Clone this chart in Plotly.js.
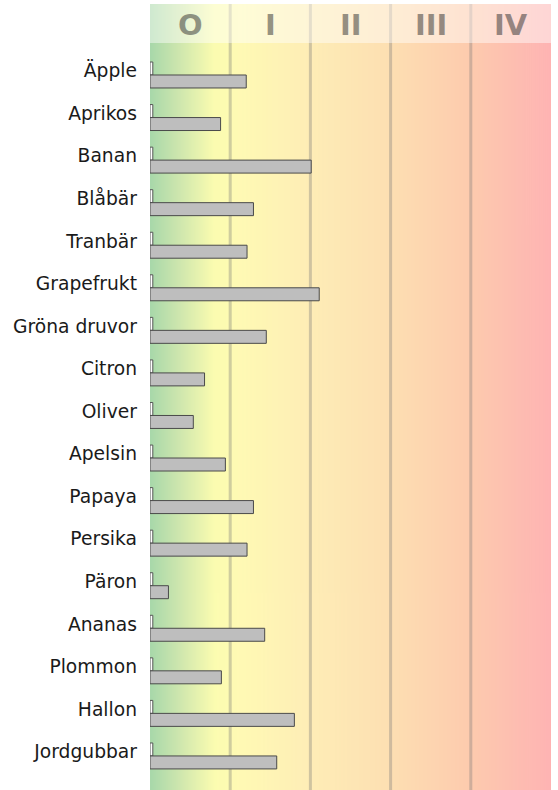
<!DOCTYPE html>
<html><head><meta charset="utf-8">
<script src="https://cdn.plot.ly/plotly-3.0.1.min.js"></script>
<style>html,body{margin:0;padding:0;background:#fff}#chart{width:558px;height:790px}</style>
</head><body><div id="chart"></div>
<script>
const categories = ['Äpple','Aprikos','Banan','Blåbär','Tranbär','Grapefrukt','Gröna druvor','Citron','Oliver','Apelsin','Papaya','Persika','Päron','Ananas','Plommon','Hallon','Jordgubbar'];
const markerValues = [0.035,0.035,0.035,0.035,0.035,0.035,0.035,0.035,0.035,0.035,0.035,0.035,0.035,0.035,0.035,0.035,0.035];
const values = [1.20,0.88,2.01,1.29,1.21,2.11,1.45,0.68,0.54,0.94,1.29,1.21,0.23,1.43,0.89,1.80,1.58];
const zoneLabels = ['O','I','II','III','IV'];

const yIdx = categories.map((_, i) => i);
const yTop = -1.668, yBottom = 16.8, headerBottom = -0.752;

// background gradient image
const cv = document.createElement('canvas');
cv.width = 400; cv.height = 2;
const ctx = cv.getContext('2d');
const g = ctx.createLinearGradient(0, 0, 400, 0);
g.addColorStop(0.0, '#a8d8aa');
g.addColorStop(0.07, '#cde6ae');
g.addColorStop(0.16, '#fbfcb0');
g.addColorStop(0.22, '#fffab4');
g.addColorStop(0.40, '#feedb6');
g.addColorStop(0.60, '#fddfb2');
g.addColorStop(0.80, '#fdcbae');
g.addColorStop(1.0, '#feb3b3');
ctx.fillStyle = g; ctx.fillRect(0, 0, 400, 2);

const shapes = [];
[1,2,3,4].forEach(x => shapes.push({type:'line', xref:'x', yref:'y', x0:x, x1:x, y0:yTop, y1:yBottom, layer:'below', line:{color:'rgba(120,120,120,0.35)', width:3}}));
shapes.push({type:'rect', xref:'x', yref:'y', x0:0, x1:5, y0:yTop, y1:headerBottom, layer:'below', line:{width:0}, fillcolor:'rgba(255,255,255,0.45)'});

const annotations = zoneLabels.map((t, i) => ({
  x: i + 0.5, y: -1.163, xref:'x', yref:'y', text:t, showarrow:false,
  font:{family:'DejaVu Sans', size:29, color:'rgba(45,45,45,0.5)', weight:'bold'},
  xanchor:'center', yanchor:'middle'
}));

const traces = [
  {type:'bar', orientation:'h', x: markerValues, y: yIdx, marker:{color:'#ffffff', line:{color:'#555555', width:1}}, hoverinfo:'none'},
  {type:'bar', orientation:'h', x: values, y: yIdx, marker:{color:'#bebebe', line:{color:'#4a4a4a', width:1}}, hoverinfo:'none'}
];

const layout = {
  width: 558, height: 790,
  margin: {l:150, r:7, t:4, b:0, pad:0},
  paper_bgcolor:'#ffffff', plot_bgcolor:'rgba(0,0,0,0)',
  showlegend:false,
  barmode:'group', bargap:0.39, bargroupgap:0,
  xaxis:{range:[0,5], showgrid:false, zeroline:false, showticklabels:false, ticks:'', showline:false, fixedrange:true},
  yaxis:{range:[yBottom, yTop], showgrid:false, zeroline:false, ticks:'', showline:false,
         tickmode:'array', tickvals: yIdx.map(i => i - 0.1), ticktext: categories,
         tickfont:{family:'DejaVu Sans', size:18.7, color:'#1a1a1a'}, ticklabelstandoff:12},
  images:[{source: cv.toDataURL(), xref:'paper', yref:'paper', x:0, y:1, sizex:1, sizey:1, xanchor:'left', yanchor:'top', sizing:'stretch', layer:'below'}],
  shapes: shapes,
  annotations: annotations
};

Plotly.newPlot('chart', traces, layout, {displayModeBar:false, staticPlot:true});
</script></body></html>
